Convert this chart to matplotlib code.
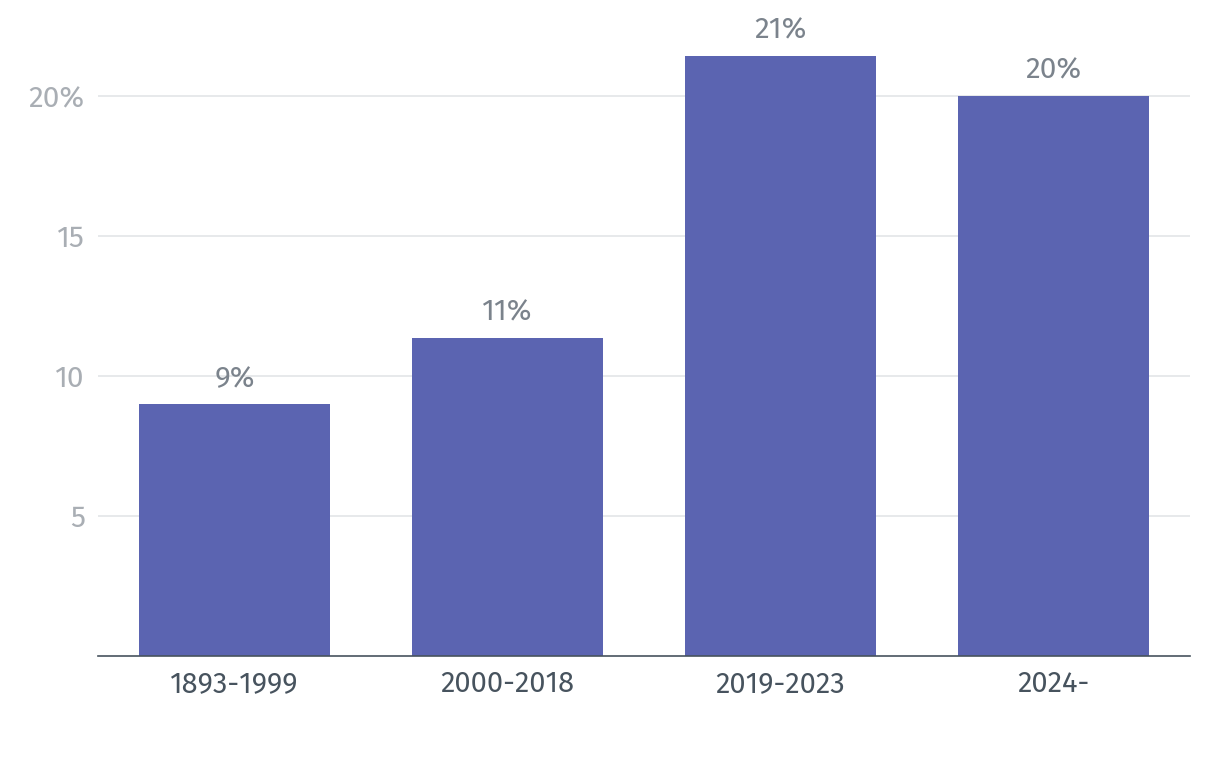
import matplotlib
matplotlib.use("Agg")
import matplotlib.pyplot as plt

categories = ["1893-1999", "2000-2018", "2019-2023", "2024-"]
values = [9.0, 11.36, 21.43, 20.0]
labels = ["9%", "11%", "21%", "20%"]
yticks = [5, 10, 15, 20]
ytick_labels = ["5", "10", "15", "20%"]

plt.rcParams['font.family'] = ['Fira Sans', 'Open Sans', 'DejaVu Sans']

W, H = 1220, 760
fig = plt.figure(figsize=(W/100, H/100), dpi=100)
top_px = 40
ax = fig.add_axes([98/W, (H-656)/H, 1092/W, (656-top_px)/H])

x = list(range(len(categories)))
ax.bar(x, values, width=0.7, color="#5b64b1", zorder=3)
for xi, v, lab in zip(x, values, labels):
    ax.annotate(lab, (xi, v), xytext=(0, 8), textcoords="offset points",
                ha="center", va="bottom", fontsize=21.5, color="#7b838c")

ax.set_xlim(-0.5, 3.5)
ax.set_ylim(0, (656-top_px)/28)
ax.set_yticks(yticks)
ax.set_yticklabels(ytick_labels)
ax.set_xticks(x)
ax.set_xticklabels(categories)
ax.grid(axis="y", color="#e3e5e8", linewidth=1.2, zorder=0)
ax.tick_params(axis="y", length=0, pad=9.5, labelsize=21.5, labelcolor="#a9aeb4")
ax.tick_params(axis="x", length=0, pad=10, labelsize=21, labelcolor="#47535e")
for s in ["top", "right", "left"]:
    ax.spines[s].set_visible(False)
ax.spines["bottom"].set_color("#47535e")
ax.spines["bottom"].set_linewidth(1.2)
ax.spines["bottom"].set_zorder(4)

fig.savefig("out.png", dpi=100, facecolor="white")
